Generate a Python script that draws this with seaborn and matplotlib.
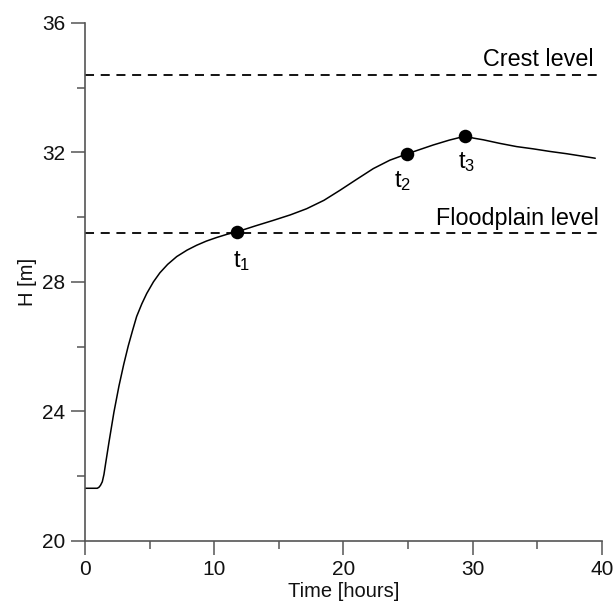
import matplotlib
matplotlib.use("Agg")
import matplotlib.pyplot as plt
from matplotlib.ticker import MultipleLocator
import seaborn as sns
import pandas as pd

# ---- data ----
time_h = [0, 0.6, 0.95, 1.08, 1.2, 1.34, 1.47, 1.6, 1.86, 2.24, 2.63, 3.0, 3.35,
          3.7, 4.0, 4.4, 4.78, 5.3, 5.8, 6.4, 7.1, 7.9, 8.64, 9.4, 10.19, 11.0,
          11.8, 13.2, 14.58, 15.9, 17.16, 18.5, 19.74, 21.0, 22.32, 23.6, 24.9,
          26.0, 26.96, 28.2, 29.4, 30.1, 30.83, 32.1, 33.41, 34.7, 35.99, 37.28,
          38.4, 39.5]
level_m = [21.62, 21.62, 21.62, 21.65, 21.71, 21.82, 22.05, 22.39, 23.05, 23.97,
           24.78, 25.45, 26.02, 26.52, 26.93, 27.32, 27.64, 28.0, 28.28, 28.54,
           28.78, 28.98, 29.13, 29.26, 29.37, 29.47, 29.55, 29.73, 29.9, 30.07,
           30.26, 30.52, 30.83, 31.16, 31.5, 31.76, 31.95, 32.1, 32.23, 32.38,
           32.5, 32.44, 32.39, 32.28, 32.18, 32.11, 32.03, 31.96, 31.89, 31.82]
event_names = ["$t_1$", "$t_2$", "$t_3$"]
event_time = [11.8, 24.9, 29.4]
event_level = [29.55, 31.95, 32.5]
crest_level = 34.4
floodplain_level = 29.5
x_ticks = [0, 10, 20, 30, 40]
y_ticks = [20, 24, 28, 32, 36]

sns.set_theme(style="ticks")
plt.rcParams["font.family"] = ["Liberation Sans", "DejaVu Sans"]
plt.rcParams["mathtext.fontset"] = "custom"
plt.rcParams["mathtext.rm"] = "Liberation Sans"
plt.rcParams["mathtext.it"] = "Liberation Sans"

fig = plt.figure(figsize=(6.14, 6.05), dpi=100)
ax = fig.add_axes([0.1384, 0.1063, 0.98 - 0.1384, 0.962 - 0.1063])

curve = pd.DataFrame({"Time": time_h, "H": level_m})
sns.lineplot(data=curve, x="Time", y="H", ax=ax, color="black", linewidth=1.1,
             sort=False, estimator=None)

ax.plot([0, 40], [crest_level, crest_level], color="black", linewidth=1.3,
        linestyle=(0, (5.0, 3.7)))
ax.plot([0, 40], [floodplain_level, floodplain_level], color="black", linewidth=1.3,
        linestyle=(0, (5.0, 3.7)))

pts = pd.DataFrame({"Time": event_time, "H": event_level})
sns.scatterplot(data=pts, x="Time", y="H", ax=ax, color="black", s=95,
                edgecolor="black", linewidth=0, zorder=5)

label_offsets = [(0.35, -1.08), (-0.3, -1.01), (0.15, -0.98)]
for name, tx, ty, (dx, dy) in zip(event_names, event_time, event_level, label_offsets):
    ax.text(tx + dx, ty + dy, name, ha="center", va="baseline", fontsize=17, color="black")

ax.text(39.35, 34.67, "Crest level", ha="right", va="baseline", fontsize=16.8, color="black")
ax.text(39.75, 29.76, "Floodplain level", ha="right", va="baseline", fontsize=16.8, color="black")

ax.set_xlim(0, 40)
ax.set_ylim(20, 36)
ax.set_xticks(x_ticks)
ax.set_yticks(y_ticks)
ax.xaxis.set_minor_locator(MultipleLocator(5))
ax.yaxis.set_minor_locator(MultipleLocator(2))
ax.tick_params(which="major", length=10, width=1.1, color="#555555",
               labelsize=15, labelcolor="#111111", pad=4)
ax.tick_params(which="minor", length=5.5, width=1.1, color="#555555")
ax.set_xlabel("Time [hours]", fontsize=14.5, labelpad=2, color="#111111")
ax.set_ylabel("H [m]", fontsize=14.5, labelpad=4, color="#111111")
for s in ["top", "right"]:
    ax.spines[s].set_visible(False)
for s in ["left", "bottom"]:
    ax.spines[s].set_color("#555555")
    ax.spines[s].set_linewidth(1.2)

fig.savefig("out.png", dpi=100)
